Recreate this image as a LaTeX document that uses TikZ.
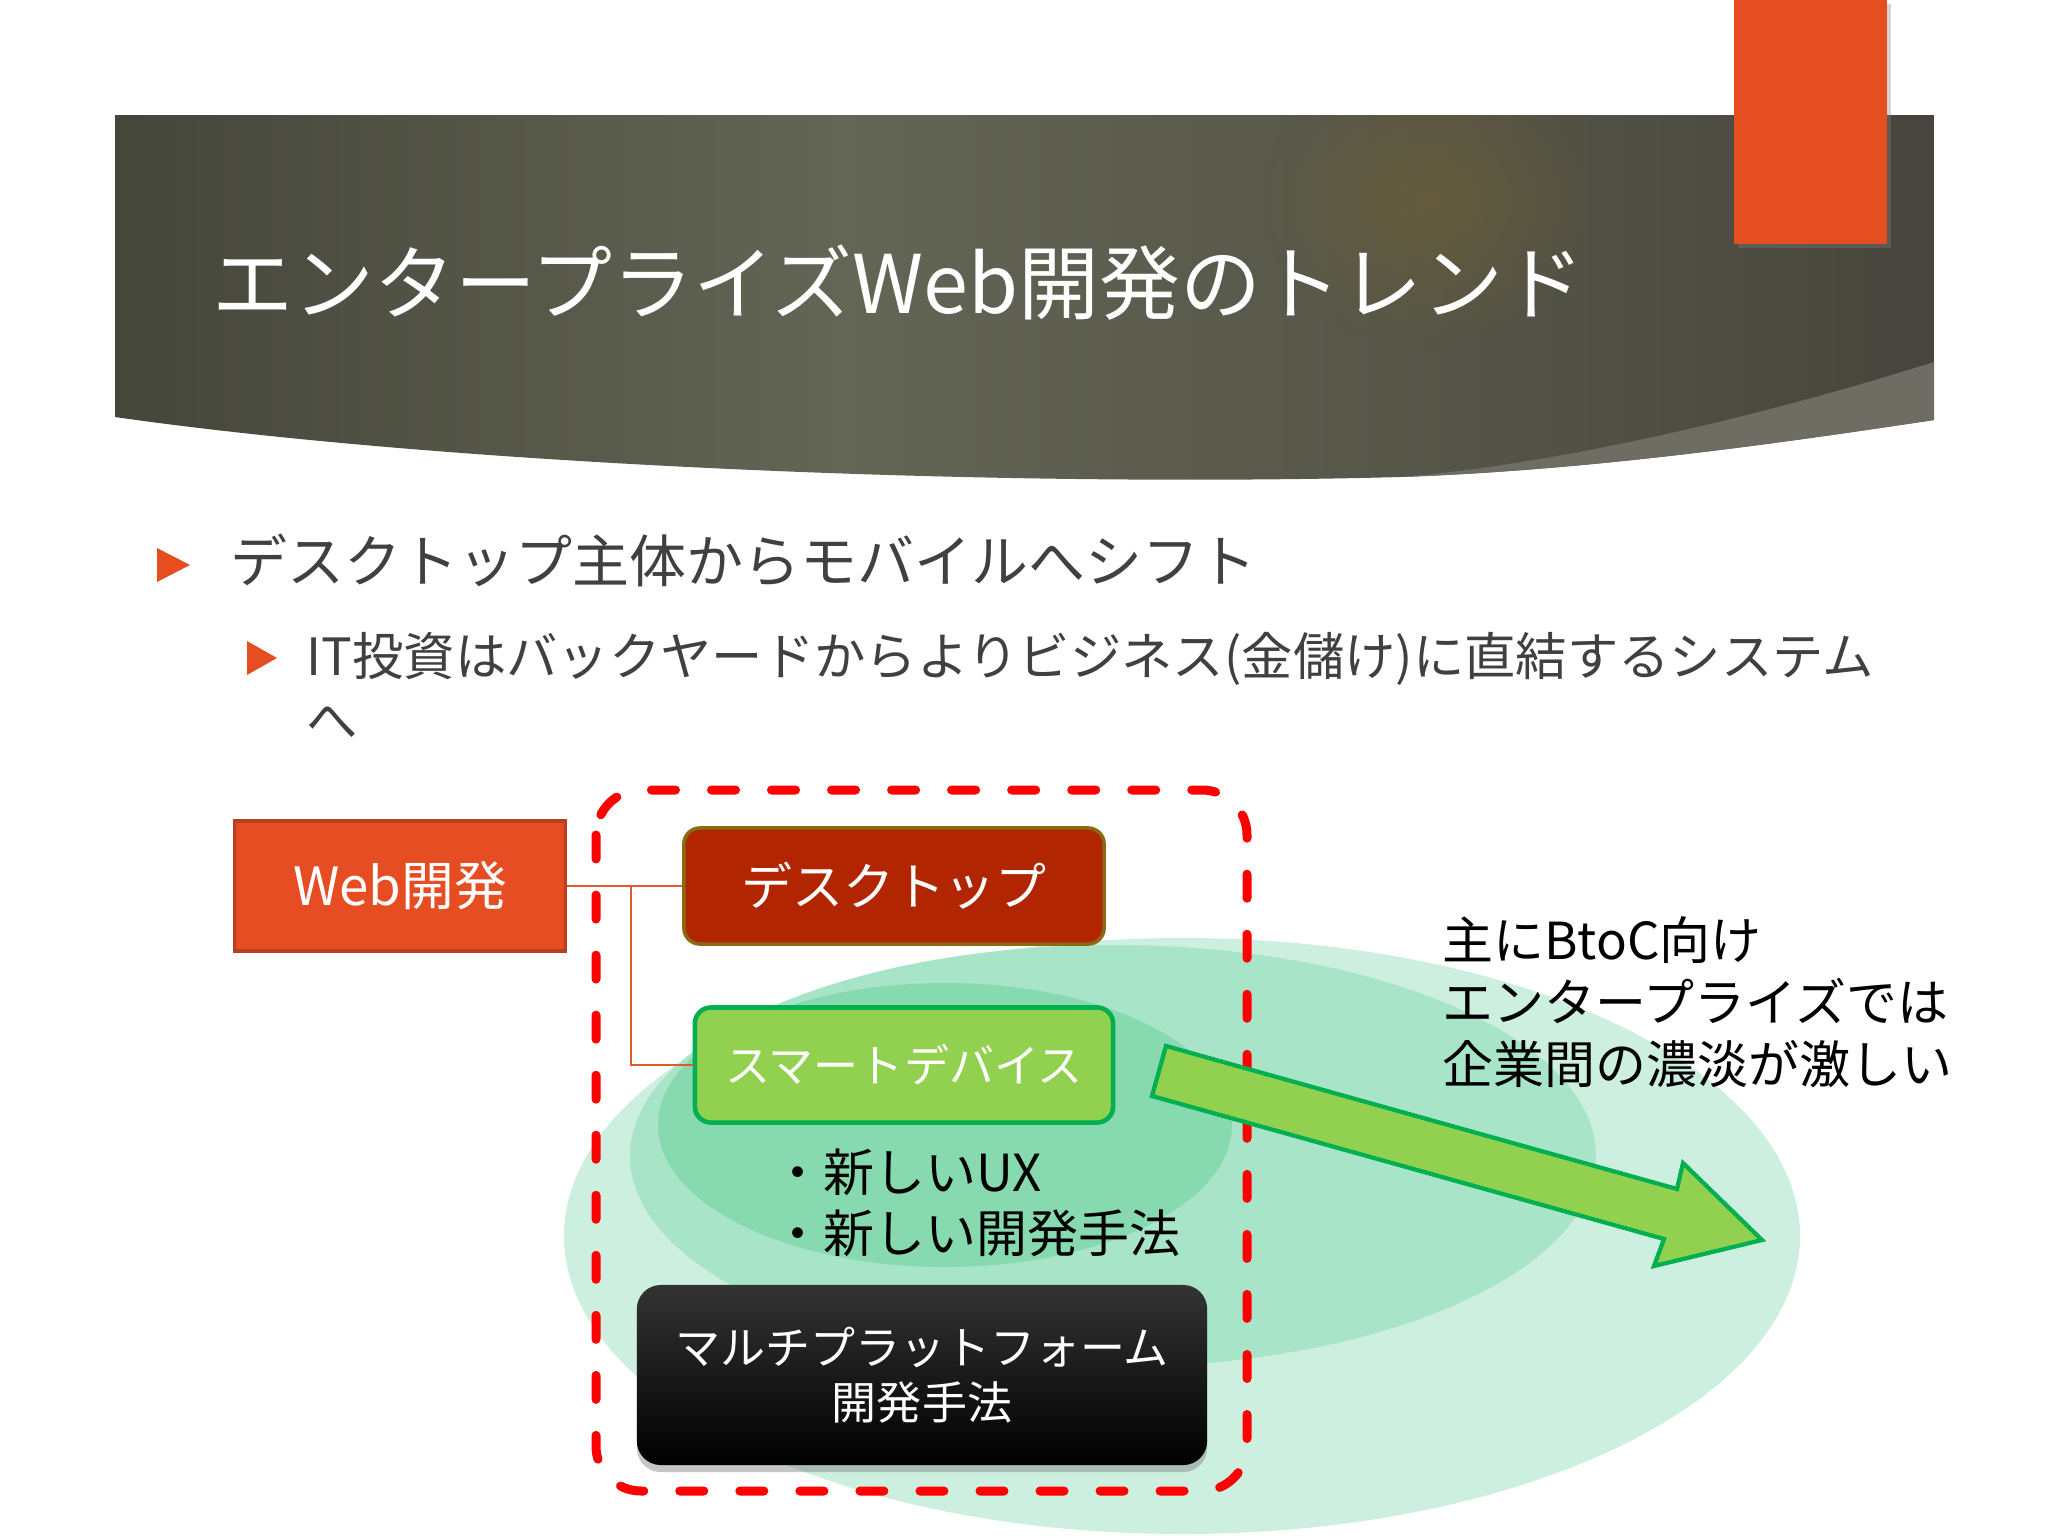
\documentclass[tikz,border=0pt]{standalone}
\usepackage{fontspec}
\setmainfont{Noto Sans CJK JP}
\usepackage{tikz}
\usetikzlibrary{shadows,fadings}
\definecolor{bandark}{HTML}{45463A}
\definecolor{bandlight}{HTML}{636555}
\definecolor{bandmid}{HTML}{4F4E43}
\definecolor{bandright}{HTML}{46443C}
\definecolor{curlgray}{HTML}{6F6D63}
\definecolor{glowbrown}{HTML}{74622E}
\definecolor{tabor}{HTML}{E54E21}
\definecolor{txtgray}{HTML}{404040}
\definecolor{webfill}{HTML}{E64D22}
\definecolor{webline}{HTML}{B8401E}
\definecolor{deskfill}{HTML}{B12500}
\definecolor{deskline}{HTML}{8C6A12}
\definecolor{smartfill}{HTML}{92D050}
\definecolor{smartline}{HTML}{00B050}
\definecolor{mintA}{HTML}{CDEFDF}
\definecolor{mintB}{HTML}{A8E4C8}
\definecolor{mintC}{HTML}{87D9AF}
\definecolor{connor}{HTML}{E0582E}
\definecolor{dashred}{HTML}{FF0000}
\pgfdeclarehorizontalshading{bannershade}{100bp}{color(0bp)=(bandark); color(25bp)=(bandark); color(45bp)=(bandlight); color(68bp)=(bandmid); color(75bp)=(bandright); color(100bp)=(bandright)}
\tikzfading[name=glowfade,inner color=transparent!0,outer color=transparent!100]
\newcommand{\fsz}[2]{\fontsize{#1}{#2}\selectfont}

\begin{document}
\begin{tikzpicture}[x=0.01cm,y=-0.01cm,
  txt/.style={inner sep=0,anchor=west,align=left},
  boxbase/.style={text=white,align=center,rounded corners=0.16cm},
  dashbox/.style={dashred,line width=0.09cm,line cap=round,dash pattern=on 0.24cm off 0.36cm,rounded corners=0.45cm},
  conn/.style={connor,line width=0.6pt},
  bulltri/.style={fill=tabor}]
\useasboundingbox (0,0) rectangle (2048,1536);
% background ellipses
\fill[mintA] (1182,1236) ellipse (618 and 298);
\fill[mintB] (1113,1156) ellipse (483 and 211);
\fill[mintC] (945,1125) ellipse (287 and 142);
% title banner
\begin{scope}
\clip (115,115) -- (1934,115) -- (1934,420) .. controls (1800,440) and (1600,470) .. (1400,477) .. controls (1000,488) and (450,465) .. (115,417) -- cycle;
\shade[shading=bannershade] (115,115) rectangle (1934,490);
\fill[glowbrown,path fading=glowfade,opacity=.5] (1430,200) ellipse (170 and 150);
\end{scope}
\fill[curlgray] (1934,362) .. controls (1750,420) and (1550,465) .. (1400,477) .. controls (1600,470) and (1800,440) .. (1934,420) -- cycle;
\fill[tabor,drop shadow={shadow xshift=1pt,shadow yshift=-1pt,opacity=.35}] (1734,0) rectangle (1887,244);
\node[txt,text=white,font=\fsz{23pt}{28pt}] (ttl) at (212,283) {エンタープライズWeb開発のトレンド};
% bullets
\fill[bulltri] (157,548) -- (190,565) -- (157,582) -- cycle;
\node[txt,text=txtgray,font=\fsz{16.2pt}{20pt}] (b1) at (230,560) {デスクトップ主体からモバイルへシフト};
\fill[bulltri] (247,641) -- (277,658) -- (247,675) -- cycle;
\node[txt,text=txtgray,font=\fsz{14.6pt}{18.2pt}] (b2) at (306,686) {IT投資はバックヤードからよりビジネス(金儲け)に直結するシステム\\へ};
% diagram
\draw[dashbox] (596,790) rectangle (1247,1491);
\node[boxbase,rounded corners=0,fill=webfill,draw=webline,line width=1pt,minimum width=3.31cm,minimum height=1.3cm,font=\fsz{15pt}{18pt}] (web) at (400,886) {Web開発};
\node[boxbase,fill=deskfill,draw=deskline,line width=1pt,minimum width=4.2cm,minimum height=1.16cm,font=\fsz{14.5pt}{18pt}] (desk) at (894,886) {デスクトップ};
\node[boxbase,fill=smartfill,draw=smartline,line width=1.3pt,minimum width=4.18cm,minimum height=1.15cm,font=\fsz{12.8pt}{16pt}] (smart) at (904,1065) {スマートデバイス};
\draw[conn] (web.east) -- (desk.west);
\draw[conn] (web.east) -- ++(64,0) |- (smart.west);
\node[txt,font=\fsz{14.5pt}{17.4pt}] (feat) at (772,1203) {・新しいUX\\・新しい開発手法};
\node[boxbase,rounded corners=0.24cm,top color=black!80,bottom color=black,draw=none,minimum width=5.7cm,minimum height=1.8cm,font=\fsz{12.8pt}{15.6pt},drop shadow={shadow xshift=0pt,shadow yshift=-2pt,opacity=.45}] (multi) at (922,1375) {マルチプラットフォーム\\開発手法};
\draw[fill=smartfill,draw=smartline,line width=1.2pt,line join=miter] (1166,1046) -- (1677,1189) -- (1683,1163) -- (1762,1240) -- (1654,1266) -- (1664,1239) -- (1152,1096) -- cycle;
\node[txt,font=\fsz{14.5pt}{17.6pt}] (note) at (1442,1002) {主にBtoC向け\\エンタープライズでは\\企業間の濃淡が激しい};
\end{tikzpicture}
\end{document}
